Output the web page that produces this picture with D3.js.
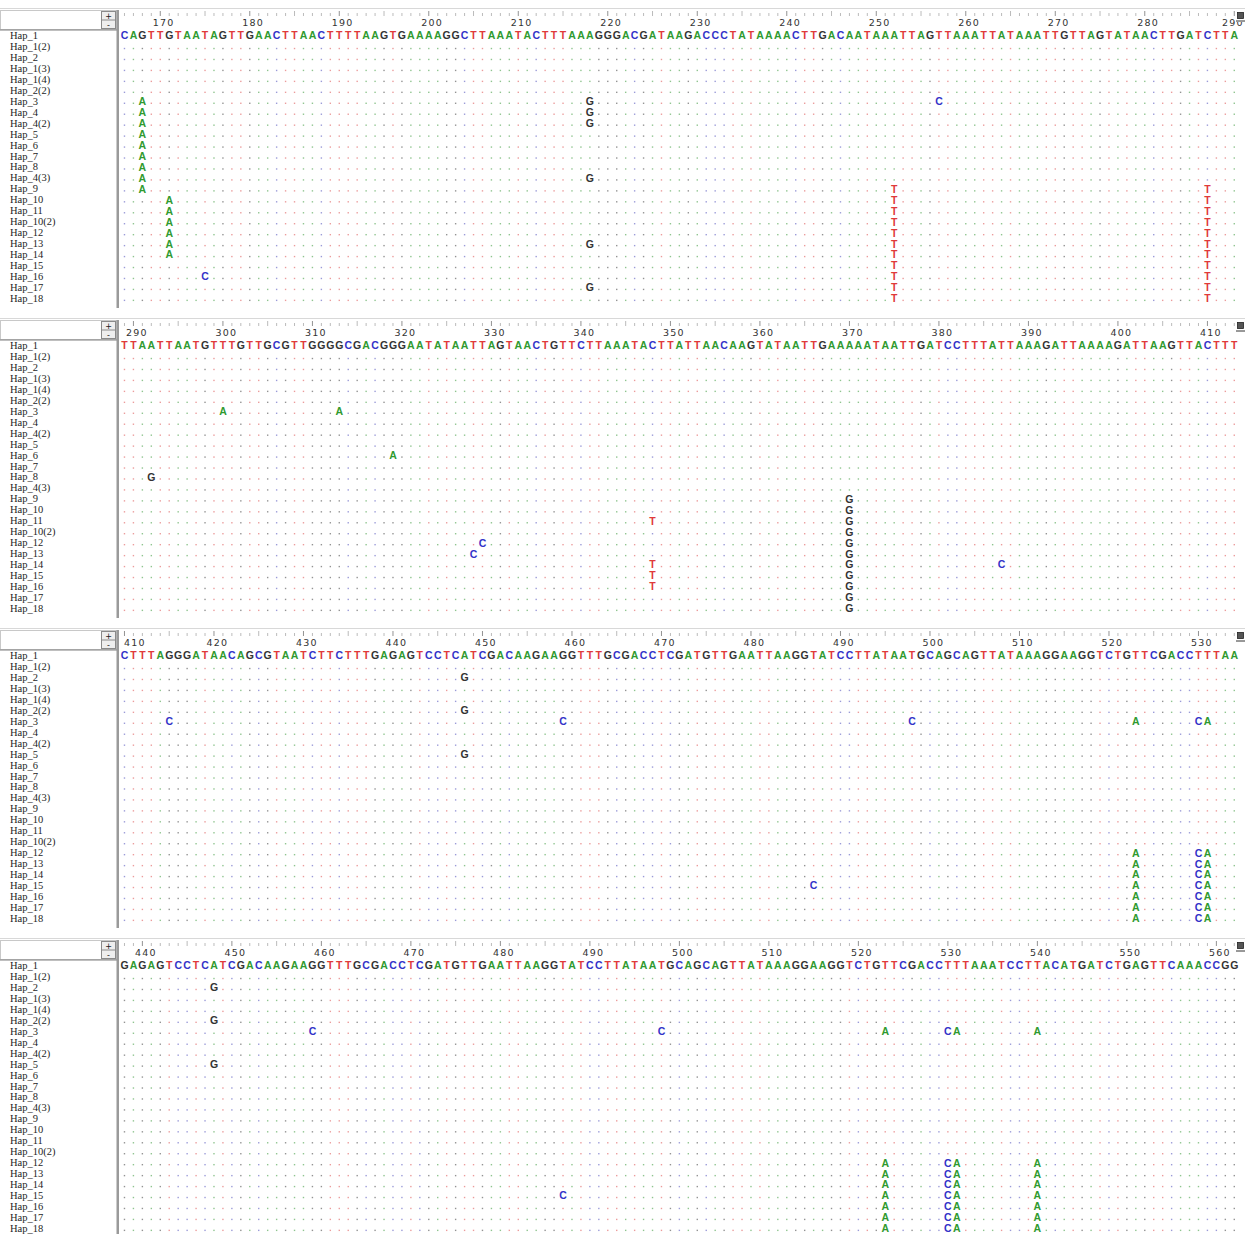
<!DOCTYPE html>
<html>
<head>
<meta charset="utf-8">
<script src="https://cdn.jsdelivr.net/npm/d3@7"></script>
<style>
  html, body { margin: 0; padding: 0; background: #fff; }
  svg { display: block; }
</style>
</head>
<body>
<svg id="chart" width="1245" height="1234"></svg>
<script>
// ---------------- DATA ----------------
const haplotypes = ["Hap_1","Hap_1(2)","Hap_2","Hap_1(3)","Hap_1(4)","Hap_2(2)","Hap_3","Hap_4","Hap_4(2)","Hap_5","Hap_6","Hap_7","Hap_8","Hap_4(3)","Hap_9","Hap_10","Hap_11","Hap_10(2)","Hap_12","Hap_13","Hap_14","Hap_15","Hap_16","Hap_17","Hap_18"];

const panelStarts = [166, 289, 410, 438];
const panelConsensus = [
  "CAGTTGTAATAGTTGAACTTAACTTTTAAGTGAAAAGGCTTAAATACTTTAAAGGGACGATAAGACCCTATAAAACTTGACAATAAATTAGTTAAATTATAAATTGTTAGTATAACTTGATCTTA",
  "TTAATTAATGTTTGTTGCGTTGGGGCGACGGGAATATAATTAGTAACTGTTCTTAAATACTTATTAACAAGTATAATTGAAAAATAATTGATCCTTTATTAAAGATTAAAAGATTAAGTTACTTT",
  "CTTTAGGGATAACAGCGTAATCTTCTTTGAGAGTCCTCATCGACAAGAAGGTTTGCGACCTCGATGTTGAATTAAGGTATCCTTATAATGCAGCAGTTATAAAGGAAGGTCTGTTCGACCTTTAA",
  "GAGAGTCCTCATCGACAAGAAGGTTTGCGACCTCGATGTTGAATTAAGGTATCCTTATAATGCAGCAGTTATAAAGGAAGGTCTGTTCGACCTTTAAATCCTTACATGATCTGAGTTCAAACCGG"
];

const g9to18 = ["Hap_9","Hap_10","Hap_11","Hap_10(2)","Hap_12","Hap_13","Hap_14","Hap_15","Hap_16","Hap_17","Hap_18"];
const g3_12to18 = ["Hap_3","Hap_12","Hap_13","Hap_14","Hap_15","Hap_16","Hap_17","Hap_18"];

const variantPos  = [168, 171, 175, 218, 252, 257, 287, 292, 300, 313, 319, 328, 329, 348, 370, 387, 415, 448, 459, 487, 498, 523, 530, 531, 540];
const variantBase = ["A","A","C","G","T","C","T","G","A","A","A","C","C","T","G","C","C","G","C","C","C","A","C","A","A"];
const variantHaps = [
  ["Hap_3","Hap_4","Hap_4(2)","Hap_5","Hap_6","Hap_7","Hap_8","Hap_4(3)","Hap_9"],
  ["Hap_10","Hap_11","Hap_10(2)","Hap_12","Hap_13","Hap_14"],
  ["Hap_16"],
  ["Hap_3","Hap_4","Hap_4(2)","Hap_4(3)","Hap_13","Hap_17"],
  g9to18,
  ["Hap_3"],
  g9to18,
  ["Hap_8"],
  ["Hap_3"],
  ["Hap_3"],
  ["Hap_6"],
  ["Hap_13"],
  ["Hap_12"],
  ["Hap_11","Hap_14","Hap_15","Hap_16"],
  g9to18,
  ["Hap_14"],
  ["Hap_3"],
  ["Hap_2","Hap_2(2)","Hap_5"],
  ["Hap_3"],
  ["Hap_15"],
  ["Hap_3"],
  g3_12to18,
  g3_12to18,
  g3_12to18,
  g3_12to18
];

// ---------------- DRAWING ----------------
const baseColor = { A: "#2f9a2f", C: "#3232c8", G: "#333333", T: "#e03a3a" };
const dotColor  = { A: "#8fc48f", C: "#9b9bd8", G: "#939393", T: "#eb9c9c" };

const W = 1245;
const nCols = 125;
const panelTops = [10, 320, 630, 940];
const panelH = 302;

const svg = d3.select("#chart");

const varMap = new Map();
variantPos.forEach((p, i) => {
  variantHaps[i].forEach(h => varMap.set(p + "|" + h, variantBase[i]));
});

panelTops.forEach((top, pi) => {
  const g = svg.append("g");
  const start = panelStarts[pi];
  const cons = panelConsensus[pi];

  const x = d3.scaleBand().domain(d3.range(nCols)).range([120, 120 + nCols * 8.95]).paddingInner(0);
  const y = d3.scaleBand().domain(haplotypes).range([top + 20, top + 20 + haplotypes.length * 10.95]);
  const bw = x.bandwidth();

  g.append("line").attr("x1", 0).attr("x2", W).attr("y1", top - 1.5).attr("y2", top - 1.5)
    .attr("stroke", "#d8d8d8").attr("stroke-width", 1);

  // left header box
  g.append("rect").attr("x", 0.5).attr("y", top + 0.5).attr("width", 116).attr("height", 19)
    .attr("fill", "#fff").attr("stroke", "#c8c8c8");
  g.append("line").attr("x1", 0).attr("x2", 117).attr("y1", top + 20).attr("y2", top + 20)
    .attr("stroke", "#808080").attr("stroke-width", 1.2);
  // spinner
  g.append("rect").attr("x", 101.5).attr("y", top + 1.5).attr("width", 14).attr("height", 17)
    .attr("fill", "#eee").attr("stroke", "#8a8a8a");
  g.append("line").attr("x1", 102).attr("x2", 115).attr("y1", top + 10).attr("y2", top + 10).attr("stroke", "#8a8a8a");
  g.append("text").attr("x", 108.5).attr("y", top + 9).attr("text-anchor", "middle")
    .attr("font-family", "DejaVu Sans").attr("font-size", 8).attr("fill", "#222").text("+");
  g.append("text").attr("x", 108.5).attr("y", top + 17.5).attr("text-anchor", "middle")
    .attr("font-family", "DejaVu Sans").attr("font-size", 8).attr("fill", "#222").text("-");

  // vertical separator
  g.append("rect").attr("x", 116.5).attr("y", top).attr("width", 2.5).attr("height", panelH - 4)
    .attr("fill", "#9a9a9a");

  // tick marks row
  const tickG = g.append("g");
  d3.range(nCols).forEach(k => {
    const pos = start + k;
    const cx = x(k) + bw / 2;
    const tall = pos % 5 === 0;
    tickG.append("line").attr("x1", cx).attr("x2", cx)
      .attr("y1", top + (tall ? 1 : 3)).attr("y2", top + 6)
      .attr("stroke", pos % 10 === 0 ? "#777" : "#aaa").attr("stroke-width", 0.8);
  });

  // tick numbers (kept inside the sequence area; the corner icon covers the overflow as in the original)
  const tickVals = d3.range(Math.ceil(start / 10) * 10, start + nCols, 10);
  g.selectAll("text.tick").data(tickVals).join("text")
    .attr("class", "tick")
    .attr("x", d => Math.max(124, Math.min(x(d - start) - 3, 1222)))
    .attr("y", top + 16)
    .attr("font-family", "DejaVu Sans, Verdana, sans-serif")
    .attr("font-size", 9.5)
    .attr("letter-spacing", 1.2)
    .attr("fill", "#333")
    .text(d => d);

  // row labels
  g.selectAll("text.lab").data(haplotypes).join("text")
    .attr("class", "lab")
    .attr("x", 10)
    .attr("y", d => y(d) + y.bandwidth() / 2 + 3.6)
    .attr("font-family", "Liberation Serif, Times New Roman, serif")
    .attr("font-size", 10.5)
    .attr("fill", "#1e1e1e")
    .text(d => d);

  // consensus row
  const consRow = haplotypes[0];
  g.selectAll("text.cons").data(cons.split("")).join("text")
    .attr("class", "cons")
    .attr("x", (d, k) => x(k) + bw / 2)
    .attr("y", y(consRow) + y.bandwidth() / 2 + 4)
    .attr("text-anchor", "middle")
    .attr("font-family", "Liberation Sans, Arial, sans-serif")
    .attr("font-weight", "bold")
    .attr("font-size", 10.5)
    .attr("fill", d => baseColor[d])
    .text(d => d);

  const cells = [];
  haplotypes.slice(1).forEach(h => {
    d3.range(nCols).forEach(k => {
      const pos = start + k;
      const v = varMap.get(pos + "|" + h);
      cells.push({ h, k, base: v || null, ref: cons[k] });
    });
  });

  g.selectAll("rect.dot").data(cells.filter(c => !c.base)).join("rect")
    .attr("class", "dot")
    .attr("x", c => x(c.k) + bw / 2 - 0.7)
    .attr("y", c => y(c.h) + y.bandwidth() / 2 + 1.4)
    .attr("width", 1.4).attr("height", 1.4)
    .attr("fill", c => dotColor[c.ref]);

  g.selectAll("text.var").data(cells.filter(c => c.base)).join("text")
    .attr("class", "var")
    .attr("x", c => x(c.k) + bw / 2)
    .attr("y", c => y(c.h) + y.bandwidth() / 2 + 4)
    .attr("text-anchor", "middle")
    .attr("font-family", "Liberation Sans, Arial, sans-serif")
    .attr("font-weight", "bold")
    .attr("font-size", 10.5)
    .attr("fill", c => baseColor[c.base])
    .text(c => c.base);

  // top-right icon
  g.append("rect").attr("x", 1236).attr("y", top + 1).attr("width", 9).attr("height", 11).attr("fill", "#fff");
  g.append("rect").attr("x", 1237.5).attr("y", top + 2.5).attr("width", 6).attr("height", 6)
    .attr("fill", "#555").attr("stroke", "#222").attr("stroke-width", 0.8);
  g.append("line").attr("x1", 1236).attr("x2", 1245).attr("y1", top + 11).attr("y2", top + 11)
    .attr("stroke", "#333").attr("stroke-width", 1);
});
</script>
</body>
</html>
